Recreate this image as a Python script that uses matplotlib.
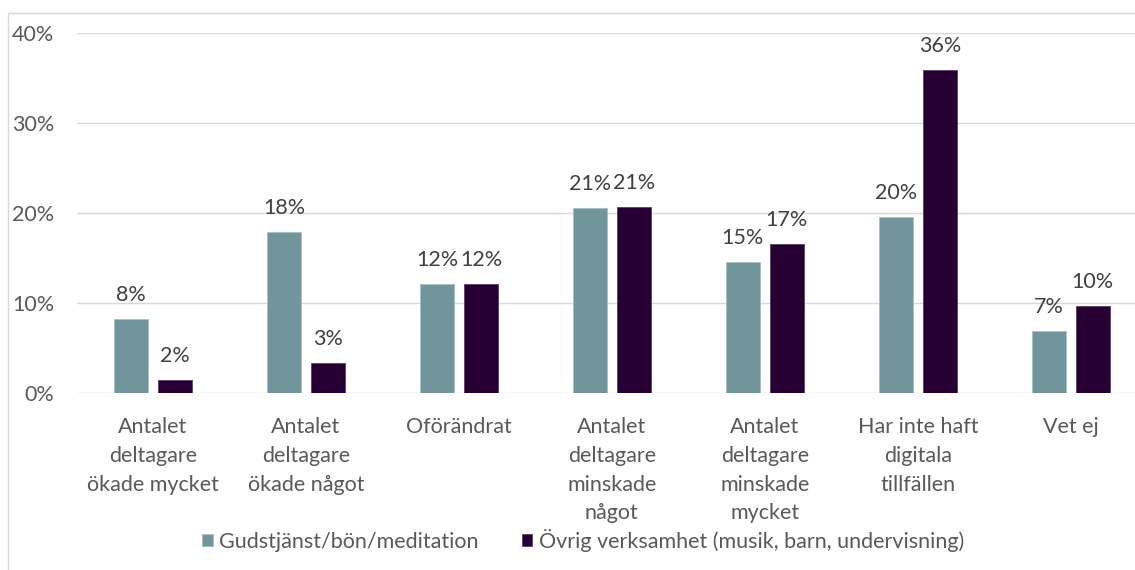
import numpy as np
import matplotlib
matplotlib.use('Agg')
import matplotlib.pyplot as plt
from matplotlib.patches import Rectangle

plt.rcParams['font.family'] = ['Lato', 'DejaVu Sans']

# data (percent)
categories = ['Antalet\ndeltagare\nökade mycket', 'Antalet\ndeltagare\nökade något',
              'Oförändrat', 'Antalet\ndeltagare\nminskade\nnågot',
              'Antalet\ndeltagare\nminskade\nmycket', 'Har inte haft\ndigitala\ntillfällen',
              'Vet ej']
gudstjanst = [8.2, 17.9, 12.1, 20.6, 14.6, 19.6, 6.9]
ovrig = [1.5, 3.4, 12.1, 20.7, 16.6, 35.9, 9.7]
series_names = ['Gudstjänst/bön/meditation', 'Övrig verksamhet (musik, barn, undervisning)']
yticks = [0, 10, 20, 30, 40]

col_gud = '#72959c'
col_ovr = '#260033'
txt_col = '#595959'
grid_col = '#d9d9d9'
fs = 15.5

fig = plt.figure(figsize=(11.35, 5.7), dpi=100)
ax = fig.add_axes([76.5 / 1135, 1 - 393.3 / 570, 1 - 76.5 / 1135, (393.3 - 33) / 570])

# outer chart border (cropped on right/bottom)
fig.patches.append(Rectangle((8 / 1135, -0.1), 1.2, 1 - 13 / 570 + 0.1, transform=fig.transFigure,
                             fill=False, edgecolor=grid_col, linewidth=1.0))

x = np.arange(len(categories))
w = 0.222
off = 0.144
b1 = ax.bar(x - off, gudstjanst, w, color=col_gud, edgecolor='#a9bfc3', linewidth=0.6, zorder=3,
            label=series_names[0])
b2 = ax.bar(x + off, ovrig, w, color=col_ovr, edgecolor='#5a3f66', linewidth=0.6, zorder=3,
            label=series_names[1])

for bars, vals in [(b1, gudstjanst), (b2, ovrig)]:
    for r, v in zip(bars, vals):
        ax.annotate(f'{v:.0f}%', (r.get_x() + r.get_width() / 2, v), xytext=(0, 13),
                    textcoords='offset points', ha='center', va='baseline',
                    fontsize=fs, color='#404040')

ax.set_ylim(0, 40)
ax.set_xlim(-0.5, 6.42)
ax.set_yticks(yticks)
ax.set_yticklabels([f'{t}%' for t in yticks], fontsize=fs, color=txt_col)
ax.set_xticks(x)
ax.set_xticklabels(categories, fontsize=fs, color=txt_col, linespacing=1.55)
ax.tick_params(axis='both', length=0)
ax.tick_params(axis='x', pad=17)
ax.tick_params(axis='y', pad=16)
ax.yaxis.grid(True, color=grid_col, linewidth=1.0, zorder=0)
ax.set_axisbelow(True)
for s in ax.spines.values():
    s.set_visible(False)

leg = fig.legend(handles=[b1, b2], loc='center', bbox_to_anchor=(583 / 1135, 1 - 540 / 570),
                 ncol=2, frameon=False, fontsize=fs, handlelength=0.5, handleheight=0.5,
                 handletextpad=0.3, columnspacing=2.0)
for t in leg.get_texts():
    t.set_color(txt_col)

fig.savefig('out.png', dpi=100)
